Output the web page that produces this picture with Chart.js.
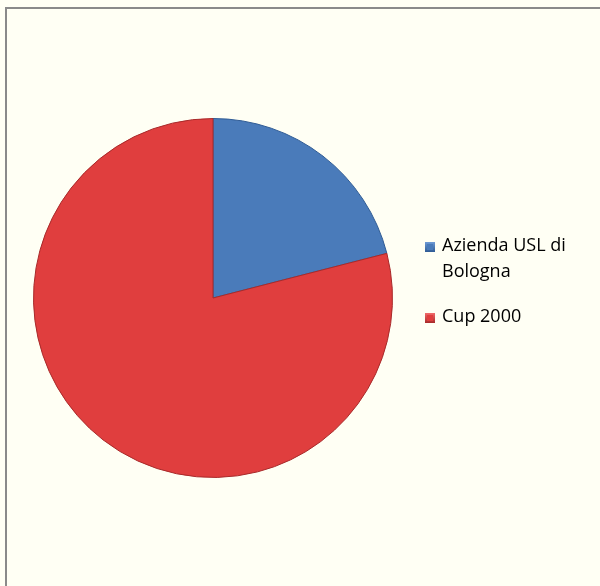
<!DOCTYPE html>
<html>
<head>
<meta charset="utf-8">
<script src="https://cdn.jsdelivr.net/npm/chart.js@4/dist/chart.umd.min.js"></script>
<style>
  html, body { margin: 0; padding: 0; background: #FFFFF4; }
  #wrap { position: relative; width: 600px; height: 586px; overflow: hidden; background: #FFFFF4; }
  #frame { position: absolute; left: 5px; top: 7px; width: 700px; height: 700px;
           border-top: 2px solid #8a8a8a; border-left: 2px solid #8a8a8a; }
  canvas { position: absolute; left: 0; top: 0; }
</style>
</head>
<body>
<div id="wrap">
  <div id="frame"></div>
  <canvas id="c" width="600" height="586"></canvas>
</div>
<script>
const categories = ["Azienda USL di Bologna", "Cup 2000"];
const legendLines = [["Azienda USL di", "Bologna"], ["Cup 2000"]];
const values = [21, 79];
const fillColors = ["#4A7BBA", "#E03E3E"];
const edgeColors = ["#2F5B94", "#A82A2A"];

const legendPlugin = {
  id: 'sideLegend',
  afterDraw(chart) {
    const ctx = chart.ctx;
    ctx.save();
    ctx.font = '18px "Open Sans", sans-serif';
    ctx.textBaseline = 'alphabetic';
    const x0 = 425;
    const tops = [242, 313];
    legendLines.forEach((lines, i) => {
      const y = tops[i];
      const g = ctx.createLinearGradient(0, y, 0, y + 10);
      g.addColorStop(0, i === 0 ? '#6E9BD6' : '#F26A6A');
      g.addColorStop(1, edgeColors[i]);
      ctx.fillStyle = g;
      ctx.fillRect(x0, y, 10, 10);
      ctx.fillStyle = fillColors[i];
      ctx.fillRect(x0 + 2, y + 2, 6, 6);
      ctx.fillStyle = '#000';
      lines.forEach((t, j) => ctx.fillText(t, 442, y + 9 + j * 26));
    });
    ctx.restore();
  }
};

new Chart(document.getElementById('c'), {
  type: 'pie',
  data: {
    labels: categories,
    datasets: [{
      data: values,
      backgroundColor: fillColors,
      borderColor: edgeColors,
      borderWidth: 1
    }]
  },
  options: {
    responsive: false,
    animation: false,
    rotation: 0,
    layout: { padding: { left: 33, right: 207, top: 118, bottom: 108 } },
    plugins: {
      legend: { display: false },
      tooltip: { enabled: false }
    }
  },
  plugins: [legendPlugin]
});
</script>
</body>
</html>
